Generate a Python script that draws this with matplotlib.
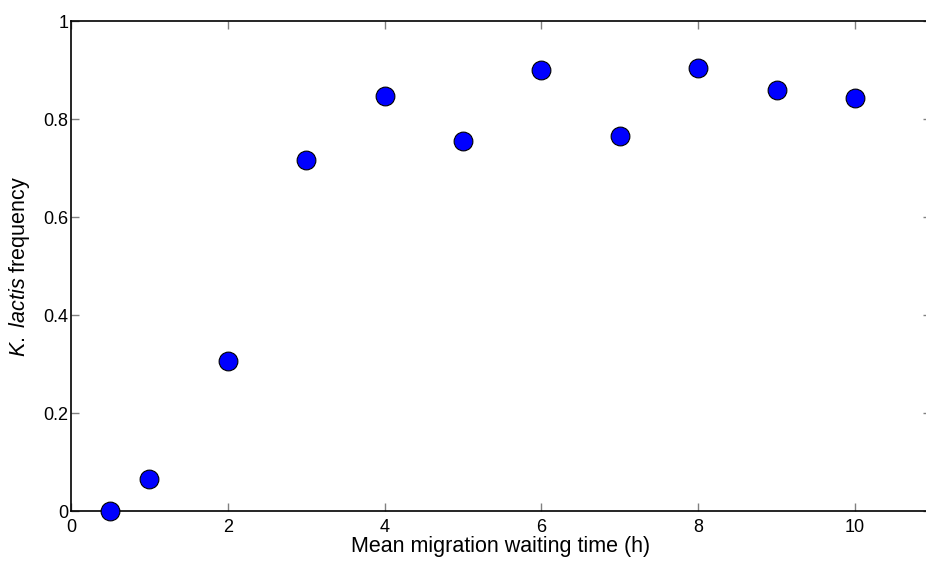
import numpy as np
import matplotlib
matplotlib.use('Agg')
import matplotlib.pyplot as plt

# waiting time (h) vs. K. lactis frequency
wait_time = [0.5, 1, 2, 3, 4, 5, 6, 7, 8, 9, 10]
freq = [0.0, 0.065, 0.306, 0.716, 0.847, 0.755, 0.900, 0.765, 0.904, 0.859, 0.843]

plt.rcParams['font.family'] = ['Liberation Sans', 'DejaVu Sans']
plt.rcParams['mathtext.fontset'] = 'custom'
plt.rcParams['mathtext.it'] = 'Liberation Sans:italic'
plt.rcParams['mathtext.rm'] = 'Liberation Sans'

fig = plt.figure(figsize=(9.26, 5.63), dpi=100)
# axes run a little past the right edge of the figure
ax = fig.add_axes([71/926, 52/563, 860/926, 490/563])

ax.plot(wait_time, freq, 'o', color='#0000ff', markersize=13.5,
        markeredgecolor='black', markeredgewidth=0.8, clip_on=False, zorder=3)

ax.set_xlim(0, 860/78.4)
ax.set_ylim(0, 1)
ax.set_xticks([0, 2, 4, 6, 8, 10])
ax.set_yticks([0, 0.2, 0.4, 0.6, 0.8, 1])
ax.set_yticklabels(['0', '0.2', '0.4', '0.6', '0.8', '1'])

ax.tick_params(direction='in', length=6, width=1, color='#808080',
               labelsize=13, top=True, right=True)
ax.tick_params(axis='x', pad=6)
ax.tick_params(axis='y', pad=2)
for s in ax.spines.values():
    s.set_linewidth(1.2)

ax.set_xlabel('Mean migration waiting time (h)', fontsize=15.5, labelpad=0)
ax.set_ylabel(r'$\mathit{K.\ lactis}$ frequency', fontsize=15.5, labelpad=8)

plt.savefig('out.png', dpi=100)
